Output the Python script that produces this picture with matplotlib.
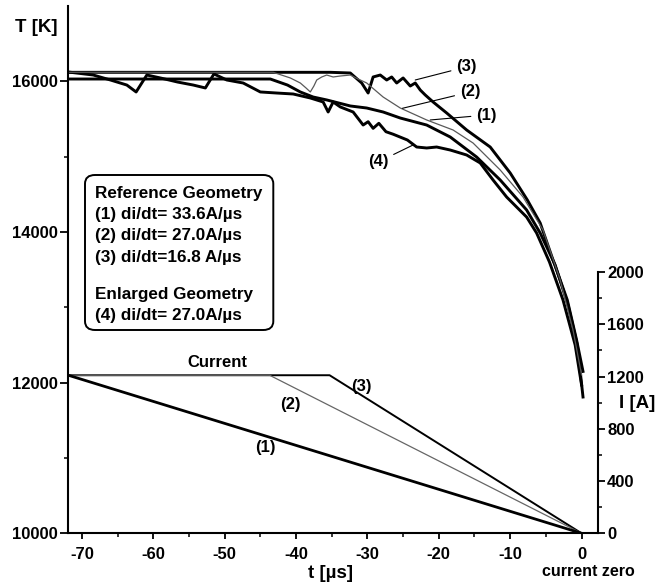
import matplotlib
matplotlib.use("Agg")
import matplotlib.pyplot as plt
from matplotlib.patches import FancyBboxPatch
from matplotlib.ticker import FixedLocator, MultipleLocator

plt.rcParams["font.family"] = ["Liberation Sans", "DejaVu Sans"]
plt.rcParams["font.weight"] = "bold"
plt.rcParams["axes.unicode_minus"] = False

# Temperature traces T(t)
t_1 = [-71.9, -43.6, -41.2, -39.4, -37.6, -35.7, -32.4, -30.1, -27.8, -25.4,
       -21.7, -18.4, -14.7, -11.4, -7.7, -5.8, -3.7, -1.9, -0.6, 0.2]
T_1 = [16033, 16033, 15953, 15861, 15794, 15755, 15675, 15648, 15595, 15515,
       15422, 15263, 14997, 14692, 14294, 13988, 13563, 13032, 12501, 11810]

t_2 = [-71.9, -43.2, -40.8, -39.4, -38.6, -38.0, -37.5, -37.1, -36.4, -35.7,
       -34.8, -33.8, -32.4, -31.3, -30.1, -27.8, -25.4, -21.7, -18.0, -15.2,
       -11.4, -8.2, -5.4, -3.0, -1.2, 0.0]
T_2 = [16122, 16122, 16047, 15980, 15914, 15861, 15940, 16020, 16060, 16086,
       16060, 16073, 16086, 16033, 15980, 15794, 15648, 15489, 15356, 15183,
       14825, 14466, 14028, 13364, 12700, 12103]

t_3 = [-71.9, -35.2, -32.4, -30.8, -29.9, -29.2, -28.2, -27.3, -26.6, -25.9,
       -25.0, -24.0, -23.3, -22.6, -21.9, -20.8, -18.9, -16.1, -12.8, -10.0,
       -7.6, -5.8, -4.0, -2.0, -0.7, 0.2]
T_3 = [16122, 16122, 16113, 15980, 15847, 16060, 16086, 16020, 16060, 15980,
       16047, 15940, 15980, 15887, 15821, 15728, 15582, 15356, 15130, 14785,
       14427, 14121, 13630, 13098, 12567, 12150]

t_4 = [-71.9, -68.4, -66.0, -63.7, -62.4, -60.9, -59.0, -56.6, -54.4, -52.7,
       -51.5, -49.7, -47.4, -45.0, -42.7, -40.4, -38.0, -36.2, -35.5, -34.8,
       -33.8, -32.0, -30.6, -29.9, -29.2, -28.4, -27.4, -26.4, -24.4, -23.1,
       -21.7, -20.3, -18.4, -16.1, -14.2, -12.4, -10.5, -7.7, -6.3, -4.5,
       -2.6, -0.9, 0.0]
T_4 = [16126, 16086, 16020, 15953, 15861, 16086, 16047, 15993, 15953, 15914,
       16100, 16020, 15980, 15861, 15847, 15834, 15781, 15728, 15595, 15728,
       15662, 15595, 15422, 15466, 15378, 15445, 15333, 15300, 15223, 15130,
       15117, 15130, 15090, 15024, 14918, 14692, 14466, 14200, 13988, 13603,
       13098, 12501, 11970]

# Current ramps I(t)
ti_1 = [-71.9, 0.0]
I_1 = [1210, 0]
ti_2 = [-71.9, -43.7, 0.0]
I_2 = [1210, 1210, 0]
ti_3 = [-71.9, -35.3, 0.0]
I_3 = [1210, 1210, 0]

legend_lines = ["Reference Geometry", "(1) di/dt= 33.6A/µs", "(2) di/dt= 27.0A/µs",
                "(3) di/dt=16.8 A/µs", "Enlarged Geometry", "(4) di/dt= 27.0A/µs"]

W, H = 667, 585
fig = plt.figure(figsize=(W / 100, H / 100), dpi=100)
ax = fig.add_axes([68.3 / W, 1 - 533.3 / H, (598 - 68.3) / W, (533.3 - 6.2) / H])
ax2 = ax.twinx()

thick = 2.1
ax.plot(t_3, T_3, color="black", lw=thick)
ax.plot(t_1, T_1, color="black", lw=thick)
ax.plot(t_4, T_4, color="black", lw=thick)
ax.plot(t_2, T_2, color="0.35", lw=0.9)

ax2.plot(ti_3, I_3, color="black", lw=1.4)
ax2.plot(ti_2, I_2, color="0.4", lw=0.9)
ax2.plot(ti_1, I_1, color="black", lw=2.0)

ax.set_xlim(-71.9, 2.3)
ax.set_ylim(10000, 17000)
ax2.set_ylim(0, 4035)

for a in (ax, ax2):
    a.spines["top"].set_visible(False)
    a.patch.set_visible(False)
ax.spines["right"].set_visible(False)
ax2.spines["left"].set_visible(False)
ax2.spines["bottom"].set_visible(False)
ax2.spines["right"].set_bounds(0, 2000)
for sp in ("left", "bottom"):
    ax.spines[sp].set_linewidth(1.5)
ax2.spines["right"].set_linewidth(1.5)

ax.xaxis.set_major_locator(MultipleLocator(10))
ax.xaxis.set_minor_locator(MultipleLocator(5))
ax.yaxis.set_major_locator(FixedLocator([10000, 12000, 14000, 16000]))
ax.yaxis.set_minor_locator(FixedLocator([11000, 13000, 15000]))
ax2.yaxis.set_major_locator(FixedLocator([0, 400, 800, 1200, 1600, 2000]))
ax2.yaxis.set_minor_locator(FixedLocator([200, 600, 1000, 1400, 1800]))

ax.tick_params(axis="x", which="major", direction="out", length=4, width=1.3,
               pad=6, labelsize=12)
ax.tick_params(axis="x", which="minor", direction="out", length=3, width=1.1)
ax.tick_params(axis="y", which="major", direction="out", length=6, width=1.3,
               pad=1.5, labelsize=12)
ax.tick_params(axis="y", which="minor", direction="out", length=3, width=1.1)
ax2.tick_params(axis="y", which="major", direction="out", length=5, width=1.3,
                pad=1.5, labelsize=12)
ax2.tick_params(axis="y", which="minor", direction="out", length=3, width=1.1)
for lab in ax.get_xticklabels() + ax.get_yticklabels() + ax2.get_yticklabels():
    lab.set_fontweight("bold")

# curve labels with leader lines
lead = dict(arrowstyle="-", color="black", lw=0.8, shrinkA=2, shrinkB=0)
ax.annotate("(3)", xy=(-23.3, 16020), xytext=(-16.1, 16195), fontsize=12,
            fontweight="bold", ha="center", va="center", arrowprops=lead)
ax.annotate("(2)", xy=(-25.1, 15644), xytext=(-15.6, 15861), fontsize=12,
            fontweight="bold", ha="center", va="center", arrowprops=lead)
ax.annotate("(1)", xy=(-21.2, 15489), xytext=(-13.3, 15555), fontsize=12,
            fontweight="bold", ha="center", va="center", arrowprops=lead)
ax.annotate("(4)", xy=(-23.6, 15157), xytext=(-28.5, 14931), fontsize=12,
            fontweight="bold", ha="center", va="center", arrowprops=lead)

ax2.text(-55.2, 1311, "Current", fontsize=12, fontweight="bold", ha="left", va="center")
ax2.text(-30.8, 1127, "(3)", fontsize=12, fontweight="bold", ha="center", va="center")
ax2.text(-40.8, 983, "(2)", fontsize=12, fontweight="bold", ha="center", va="center")
ax2.text(-44.3, 653, "(1)", fontsize=12, fontweight="bold", ha="center", va="center")

# axis titles
fig.text(36 / W, 1 - 27 / H, "T [K]", fontsize=13.5, fontweight="bold", ha="center", va="center")
fig.text(330 / W, 1 - 574 / H, "t [µs]", fontsize=13.5, fontweight="bold", ha="center", va="center")
fig.text(588 / W, 1 - 572 / H, "current zero", fontsize=11.5, fontweight="bold",
         ha="center", va="center")
fig.text(637 / W, 1 - 403 / H, "I [A]", fontsize=13.5, fontweight="bold", ha="center", va="center")

# legend box
box = FancyBboxPatch((85 / W, 1 - 330 / H), (273.3 - 85) / W, (330 - 175) / H,
                     boxstyle="round,pad=0,rounding_size=0.015", transform=fig.transFigure,
                     facecolor="white", edgecolor="black", lw=1.4)
fig.patches.append(box)
line_y = [193.3, 215, 235.7, 257.3, 295, 315.7]
for txt, yy in zip(legend_lines, line_y):
    fig.text(95 / W, 1 - yy / H, txt, fontsize=12.3, fontweight="bold", ha="left", va="center")

fig.savefig("out.png", dpi=100, facecolor="white")
